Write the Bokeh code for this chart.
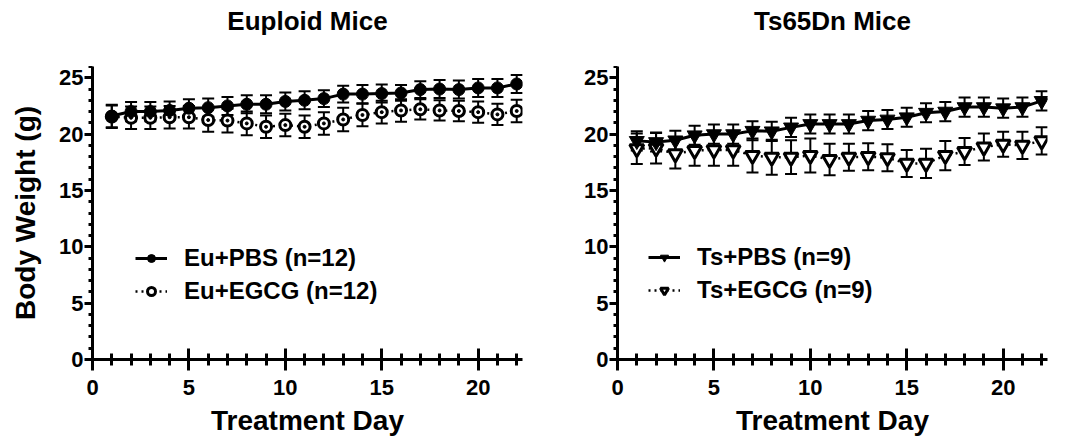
from bokeh.plotting import figure
from bokeh.layouts import row, column
from bokeh.models import (ColumnDataSource, Whisker, TeeHead, SingleIntervalTicker,
                          Legend, LegendItem, Range1d, Label)
from bokeh.embed import file_html
from bokeh.resources import INLINE

# ---------------- data ----------------
days = list(range(1, 23))

eu_pbs = [21.6, 22.0, 22.0, 22.1, 22.3, 22.35, 22.5, 22.65, 22.65, 22.9, 23.0,
          23.15, 23.55, 23.55, 23.6, 23.65, 23.95, 24.0, 23.95, 24.1, 24.1, 24.45]
eu_pbs_sem = [1.0, 0.85, 0.85, 0.8, 0.8, 0.8, 0.8, 0.8, 0.8, 0.8, 0.8,
              0.75, 0.75, 0.8, 0.8, 0.7, 0.75, 0.8, 0.8, 0.8, 0.8, 0.8]
eu_egcg = [21.55, 21.45, 21.45, 21.5, 21.5, 21.25, 21.2, 20.95, 20.65, 20.8, 20.65,
           20.95, 21.3, 21.7, 21.95, 22.1, 22.2, 22.1, 22.05, 21.95, 21.75, 22.05]
eu_egcg_sem = [1.0, 1.0, 1.0, 1.0, 1.0, 1.05, 1.05, 1.05, 1.0, 1.0, 1.0,
               1.0, 1.05, 1.0, 1.0, 1.0, 0.9, 0.9, 0.9, 0.95, 0.95, 1.0]

ts_pbs = [19.4, 19.3, 19.45, 19.9, 20.0, 20.0, 20.3, 20.25, 20.6, 20.9, 20.9,
          20.9, 21.2, 21.3, 21.5, 21.9, 22.0, 22.4, 22.4, 22.3, 22.4, 22.95]
ts_pbs_sem = [0.85] * 22
ts_egcg = [18.7, 18.75, 18.25, 18.55, 18.6, 18.6, 18.1, 17.95, 17.95, 18.1, 17.75,
           17.95, 18.0, 17.9, 17.4, 17.4, 18.1, 18.45, 18.85, 19.1, 19.0, 19.4]
ts_egcg_sem = [1.35, 1.35, 1.3, 1.35, 1.4, 1.4, 1.5, 1.55, 1.5, 1.5, 1.4,
               1.2, 1.2, 1.2, 1.2, 1.3, 1.3, 1.2, 1.2, 1.1, 1.2, 1.2]

titles = ["Euploid Mice", "Ts65Dn Mice"]
labels_eu = ["Eu+PBS (n=12)", "Eu+EGCG (n=12)"]
labels_ts = ["Ts+PBS (n=9)", "Ts+EGCG (n=9)"]
x_label = "Treatment Day"
y_label = "Body Weight (g)"

FONT = "Liberation Sans"
X_MAX = 22.3
Y_MAX = 26
FRAME_W = 430
FRAME_H = 293
TOP, BOTTOM, RIGHT = 66, 80, 10
LEFT1, LEFT2 = 92, 85


def src(y, e):
    return ColumnDataSource(dict(x=days, y=y,
                                 lo=[a - b for a, b in zip(y, e)],
                                 hi=[a + b for a, b in zip(y, e)]))


def make_fig(left_border, show_ylabel):
    p = figure(width=left_border + FRAME_W + RIGHT, height=FRAME_H + BOTTOM,
               x_range=Range1d(0, X_MAX), y_range=Range1d(0, Y_MAX),
               output_backend="svg", toolbar_location=None,
               min_border_left=left_border, min_border_right=RIGHT,
               min_border_top=0, min_border_bottom=BOTTOM)
    p.outline_line_color = None
    p.grid.visible = False
    for ax in (p.xaxis, p.yaxis):
        ax.axis_line_width = 3
        ax.major_tick_line_width = 3
        ax.minor_tick_line_width = 3
        ax.major_label_text_font = FONT
        ax.major_label_text_font_size = "22px"
        ax.major_label_text_font_style = "bold"
        ax.major_label_text_color = "black"
        ax.axis_label_text_font = FONT
        ax.axis_label_text_font_size = "28px"
        ax.axis_label_text_font_style = "bold"
        ax.axis_label_text_color = "black"
        ax.axis_line_color = "black"
        ax.major_tick_line_color = "black"
        ax.minor_tick_line_color = "black"
    p.xaxis.ticker = SingleIntervalTicker(interval=5, num_minor_ticks=5)
    p.yaxis.ticker = SingleIntervalTicker(interval=5, num_minor_ticks=5)
    p.xaxis.major_tick_in = 11
    p.xaxis.major_tick_out = 11
    p.xaxis.minor_tick_in = 6
    p.xaxis.minor_tick_out = 6
    p.xaxis.major_label_standoff = 9
    p.xaxis.axis_label = x_label
    p.xaxis.axis_label_standoff = 7
    p.yaxis.major_tick_in = 0
    p.yaxis.major_tick_out = 8
    p.yaxis.minor_tick_in = 0
    p.yaxis.minor_tick_out = 4
    p.yaxis.major_label_standoff = 1
    if show_ylabel:
        p.yaxis.axis_label = y_label
        p.yaxis.axis_label_standoff = 15
    return p


def add_series(p, s, marker, filled, lw_line, dash, msize):
    p.add_layout(Whisker(source=s, base="x", upper="hi", lower="lo",
                         dimension="height", line_width=2, line_color="black",
                         upper_head=TeeHead(size=12, line_width=2, line_color="black"),
                         lower_head=TeeHead(size=12, line_width=2, line_color="black")))
    ln = p.line("x", "y", source=s, line_color="black", line_width=lw_line,
                line_dash=dash)
    rs = [ln]
    if filled:
        rs.append(p.scatter("x", "y", source=s, marker=marker, size=msize,
                            fill_color="black", line_color="black", line_width=1))
    else:
        rs.append(p.scatter("x", "y", source=s, marker=marker, size=msize - 1,
                            fill_color="white", line_color="black", line_width=3))
        if marker == "circle":
            p.scatter("x", "y", source=s, marker="circle", size=3,
                      fill_color="black", line_color="black")
    return rs


def add_legend(p, items, x, y):
    leg = Legend(items=items, location=(x, y), padding=0, margin=0,
                 spacing=5, glyph_width=32, glyph_height=20, label_height=20,
                 label_standoff=17, background_fill_alpha=0,
                 border_line_color=None,
                 label_text_font=FONT, label_text_font_size="24px",
                 label_text_font_style="bold", label_text_color="black")
    p.add_layout(leg, "center")


# left panel
p1 = make_fig(LEFT1, True)
r_egcg = add_series(p1, src(eu_egcg, eu_egcg_sem), "circle", False, 2.5, "2 4", 12)
r_pbs = add_series(p1, src(eu_pbs, eu_pbs_sem), "circle", True, 3, "solid", 12)
add_legend(p1, [LegendItem(label=labels_eu[0], renderers=r_pbs),
                LegendItem(label=labels_eu[1], renderers=r_egcg)], 43, 54)

# right panel
p2 = make_fig(LEFT2, False)
r_egcg2 = add_series(p2, src(ts_egcg, ts_egcg_sem), "inverted_triangle", False, 2.5, "2 4", 15)
r_pbs2 = add_series(p2, src(ts_pbs, ts_pbs_sem), "inverted_triangle", True, 3, "solid", 15)
add_legend(p2, [LegendItem(label=labels_ts[0], renderers=r_pbs2),
                LegendItem(label=labels_ts[1], renderers=r_egcg2)], 31, 55)

# title strip above both panels (pixel coordinates)
total_w = p1.width + p2.width
pt = figure(width=total_w, height=TOP, x_range=Range1d(0, total_w),
            y_range=Range1d(0, TOP), x_axis_type=None, y_axis_type=None,
            output_backend="svg", toolbar_location=None,
            min_border=0, min_border_left=0, min_border_right=0,
            min_border_top=0, min_border_bottom=0)
pt.outline_line_color = None
pt.grid.visible = False
centres = [LEFT1 + FRAME_W / 2, p1.width + LEFT2 + FRAME_W / 2]
for t, cx in zip(titles, centres):
    pt.add_layout(Label(x=cx, y=TOP - 20, text=t, text_align="center",
                        text_baseline="alphabetic", text_font=FONT,
                        text_font_size="26px", text_font_style="bold",
                        text_color="black"))

layout = column(pt, row(p1, p2))
open("out.html", "w").write(file_html(layout, INLINE))
